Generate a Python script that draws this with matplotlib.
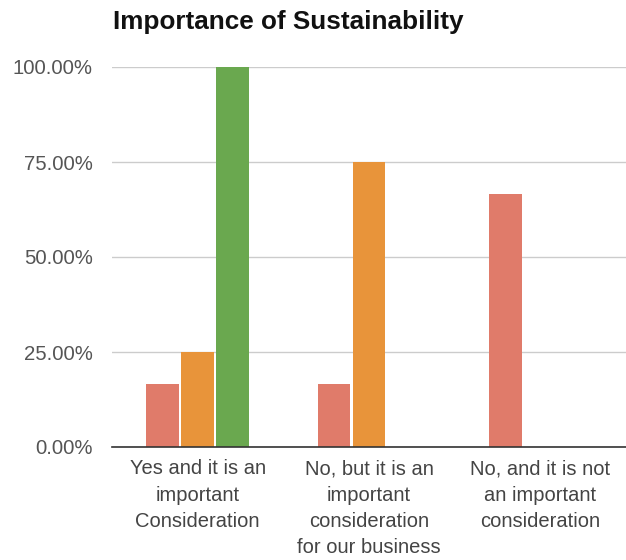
import matplotlib
matplotlib.use("Agg")
import matplotlib.pyplot as plt
import numpy as np
from matplotlib.ticker import FuncFormatter

categories = ["Yes and it is an\nimportant\nConsideration",
              "No, but it is an\nimportant\nconsideration\nfor our business",
              "No, and it is not\nan important\nconsideration"]
series_red = [0.1667, 0.1667, 0.6667]
series_orange = [0.25, 0.75, 0.0]
series_green = [1.0, 0.0, 0.0]
yticks = [0, 0.25, 0.5, 0.75, 1.0]
title = "Importance of Sustainability"

colors = ["#E07B6A", "#E8943A", "#6AA84F"]

plt.rcParams['font.family'] = ['Liberation Sans', 'DejaVu Sans']
fig = plt.figure(figsize=(6.26, 5.6), dpi=100)
ax = fig.add_axes([112/626, 1-447/560, 1-112/626, (447-67)/560])

x = np.arange(len(categories))
w = 0.192
step = 0.204
for i, (vals, c) in enumerate(zip([series_red, series_orange, series_green], colors)):
    ax.bar(x + (i-1)*step, vals, width=w, color=c, zorder=3)

ax.set_xlim(-0.5, 2.5)
ax.set_ylim(0, 1.0)
ax.set_yticks(yticks)
ax.yaxis.set_major_formatter(FuncFormatter(lambda v, p: f"{v*100:.2f}%"))
ax.grid(axis='y', color='#cccccc', linewidth=1, zorder=0)
ax.set_axisbelow(True)
for s in ['top', 'right', 'left']:
    ax.spines[s].set_visible(False)
ax.spines['bottom'].set_color('#333333')
ax.spines['bottom'].set_linewidth(1.2)
ax.spines['bottom'].set_zorder(4)
ax.tick_params(axis='y', length=0, pad=14, labelsize=14.7, labelcolor='#555555')
ax.tick_params(axis='x', length=0, pad=9, labelsize=14.5, labelcolor='#444444')
ax.set_xticks(x)
ax.set_xticklabels(categories, linespacing=1.48)
for lab in ax.get_xticklabels():
    lab.set_verticalalignment('top')

fig.text(113/626, 1-22/560, title, fontsize=18.8, fontweight='bold', ha='left', va='center', color='#111111')

fig.savefig("out.png", dpi=100)
